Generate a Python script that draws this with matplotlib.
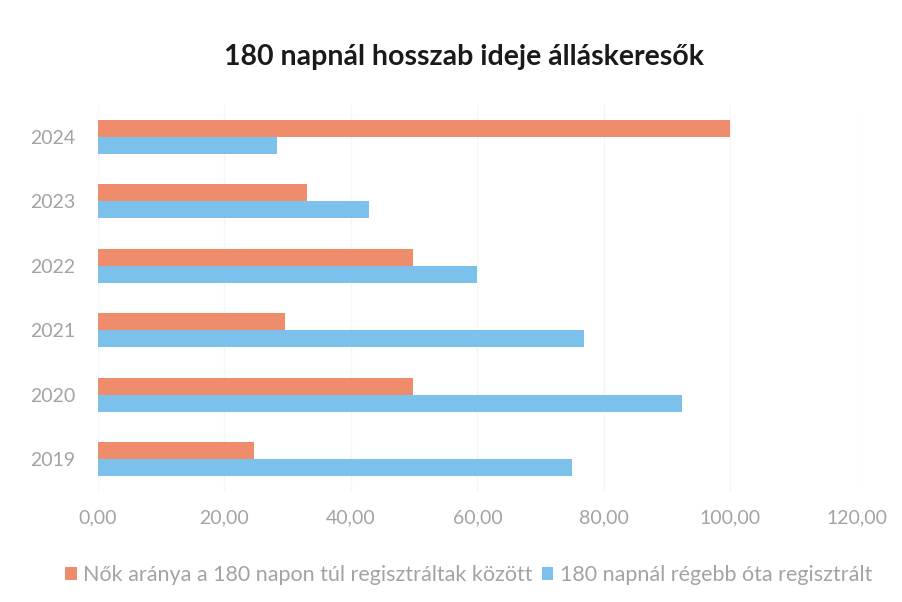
import matplotlib
matplotlib.use("Agg")
import matplotlib.pyplot as plt
import numpy as np

years = ["2019", "2020", "2021", "2022", "2023", "2024"]
nok_aranya = [24.6, 49.8, 29.6, 49.8, 33.0, 100.0]
regisztralt = [74.9, 92.3, 76.8, 59.9, 42.8, 28.3]
xticks = [0, 20, 40, 60, 80, 100, 120]
xtick_labels = ["0,00", "20,00", "40,00", "60,00", "80,00", "100,00", "120,00"]
series_names = ["Nők aránya a 180 napon túl regisztráltak között",
                "180 napnál régebb óta regisztrált"]
title = "180 napnál hosszab ideje álláskeresők"

orange = "#EE8C6C"
blue = "#7CC1EB"
gray = "#A3A3A3"

plt.rcParams['font.family'] = ['Lato', 'DejaVu Sans']

fig = plt.figure(figsize=(9.03, 6.02), dpi=100)
ax = fig.add_axes([0.1085, 0.184, 0.8405, 0.642])

y = np.arange(len(years))
h = 0.265
ax.barh(y + h / 2, nok_aranya, height=h, color=orange, label=series_names[0], zorder=3)
ax.barh(y - h / 2, regisztralt, height=h, color=blue, label=series_names[1], zorder=3)

ax.set_xlim(0, 120)
ax.set_ylim(-0.5, len(years) - 0.5)
ax.set_xticks(xticks)
ax.set_xticklabels(xtick_labels)
ax.set_yticks(y)
ax.set_yticklabels(years)
ax.tick_params(axis='both', length=0, colors=gray, labelsize=14)
ax.tick_params(axis='x', pad=13)
ax.tick_params(axis='y', pad=16)
ax.grid(axis='x', color='#F5F6F7', linewidth=1, zorder=0)
for s in ax.spines.values():
    s.set_visible(False)

fig.text(0.514, 0.905, title, ha='center', va='center', fontsize=20.5,
         fontweight='bold', color='#1A1A1A')

leg = fig.legend(loc='center', bbox_to_anchor=(0.519, 0.045), ncol=2, frameon=False,
                 fontsize=15.5, handlelength=0.55, handleheight=0.55, handletextpad=0.3,
                 columnspacing=0.4)
for t in leg.get_texts():
    t.set_color(gray)

fig.savefig("out.png", dpi=100, facecolor='white')
